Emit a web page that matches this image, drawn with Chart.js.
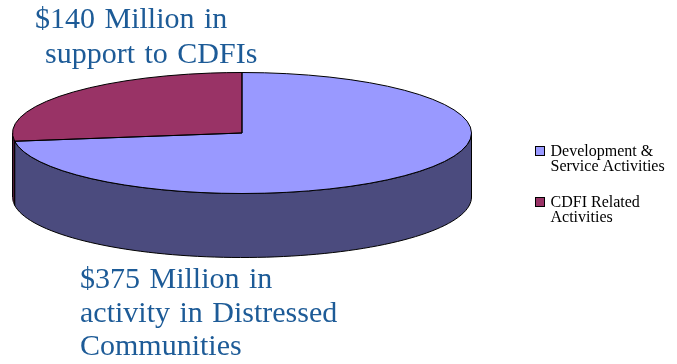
<!DOCTYPE html>
<html>
<head>
<meta charset="utf-8">
<title>Activity in Distressed Communities and CDFI Support</title>
<script src="https://cdn.jsdelivr.net/npm/chart.js@4/dist/chart.umd.min.js"></script>
<style>
  html, body { margin: 0; padding: 0; background: #ffffff; }
  #wrap { position: relative; width: 677px; height: 364px; overflow: hidden; }
  #wrap canvas { position: absolute; left: 0; top: 0; }
  .note {
    position: absolute;
    font-family: "Liberation Serif", "Times New Roman", serif;
    font-size: 30px;
    word-spacing: 2px;
    color: #1d5b97;
    white-space: nowrap;
  }
</style>
</head>
<body>
<div id="wrap">
  <canvas id="pie" width="677" height="364"></canvas>
  <div class="note" id="noteTop" style="left:35px; top:0px; line-height:35px;"></div>
  <div class="note" id="noteBottom" style="left:80px; top:261px; line-height:33.5px;"></div>
</div>
<script>
// Categories (legend text, one entry per line) and amounts in $ millions
const categories = [
  ['Development &', 'Service Activities'],
  ['CDFI Related', 'Activities']
];
const amounts = [375, 140];

// Face colours and the darker shades used for the pie's side wall
const topColors  = ['#9999ff', '#993366'];
const sideColors = ['#4b4b7e', '#4d1a35'];

// Callout texts built from the same amounts the slices use
document.getElementById('noteTop').innerHTML =
  '$' + amounts[1] + ' Million in<br><span style="padding-left:10px">support to CDFIs</span>';
document.getElementById('noteBottom').innerHTML =
  '$' + amounts[0] + ' Million in<br>activity in Distressed<br>Communities';

// Tilted-disc geometry: centre, radii of the top face and wall depth
const DISC = { cx: 242, cy: 133, rx: 229.5, ry: 60.5, depth: 64 };

function applyTilt(ctx, arc) {
  ctx.translate(DISC.cx, DISC.cy);
  ctx.scale(DISC.rx / arc.outerRadius, DISC.ry / arc.outerRadius);
  ctx.translate(-arc.x, -arc.y);
}

function rimPoint(t, drop) {
  return [DISC.cx + DISC.rx * Math.cos(t), DISC.cy + DISC.ry * Math.sin(t) + drop];
}

// Draws the extruded wall under the front half of the disc, then tilts the slices
const tiltedPie = {
  id: 'tiltedPie',
  beforeDatasetsDraw(chart) {
    const ctx = chart.ctx;
    const arcs = chart.getDatasetMeta(0).data;
    arcs.forEach((arc, i) => {
      for (let k = -1; k <= 1; k++) {
        const a = Math.max(arc.startAngle + 2 * Math.PI * k, 0);
        const b = Math.min(arc.endAngle + 2 * Math.PI * k, Math.PI);
        if (b <= a) continue;
        const n = 80;
        ctx.beginPath();
        for (let j = 0; j <= n; j++) {
          const p = rimPoint(a + (b - a) * j / n, 0);
          if (j === 0) ctx.moveTo(p[0], p[1]); else ctx.lineTo(p[0], p[1]);
        }
        for (let j = n; j >= 0; j--) {
          const p = rimPoint(a + (b - a) * j / n, DISC.depth);
          ctx.lineTo(p[0], p[1]);
        }
        ctx.closePath();
        ctx.fillStyle = sideColors[i];
        ctx.fill();
        ctx.lineWidth = 1;
        ctx.strokeStyle = '#000000';
        ctx.stroke();
      }
    });
    ctx.save();
    applyTilt(ctx, arcs[0]);
  },
  afterDatasetsDraw(chart) {
    const ctx = chart.ctx;
    ctx.restore();
    const arcs = chart.getDatasetMeta(0).data;
    arcs.forEach(arc => {
      ctx.save();
      applyTilt(ctx, arc);
      ctx.beginPath();
      ctx.moveTo(arc.x, arc.y);
      ctx.arc(arc.x, arc.y, arc.outerRadius, arc.startAngle, arc.endAngle);
      ctx.closePath();
      ctx.restore();
      ctx.lineWidth = 1;
      ctx.strokeStyle = '#000000';
      ctx.stroke();
    });
  }
};

// Legend at the right: square swatch plus two-line label
const sideLegend = {
  id: 'sideLegend',
  afterDraw(chart) {
    const ctx = chart.ctx;
    const boxX = 535, boxTops = [146, 197], box = 10, textX = 550.5, lineGap = 15;
    ctx.save();
    ctx.font = '16px "Liberation Serif", "Times New Roman", serif';
    ctx.textBaseline = 'alphabetic';
    ctx.textAlign = 'left';
    chart.data.labels.forEach((lines, i) => {
      const y = boxTops[i];
      ctx.fillStyle = chart.data.datasets[0].backgroundColor[i];
      ctx.fillRect(boxX, y, box, box);
      ctx.lineWidth = 1;
      ctx.strokeStyle = '#000000';
      ctx.strokeRect(boxX + 0.5, y + 0.5, box - 1, box - 1);
      ctx.fillStyle = '#000000';
      lines.forEach((line, j) => ctx.fillText(line, textX, y + 10.3 + j * lineGap));
    });
    ctx.restore();
  }
};

new Chart(document.getElementById('pie'), {
  type: 'pie',
  data: {
    labels: categories,
    datasets: [{
      data: amounts,
      backgroundColor: topColors,
      borderWidth: 0,
      clip: false
    }]
  },
  options: {
    responsive: false,
    animation: false,
    events: [],
    plugins: {
      legend: { display: false },
      tooltip: { enabled: false }
    }
  },
  plugins: [tiltedPie, sideLegend]
});
</script>
</body>
</html>
